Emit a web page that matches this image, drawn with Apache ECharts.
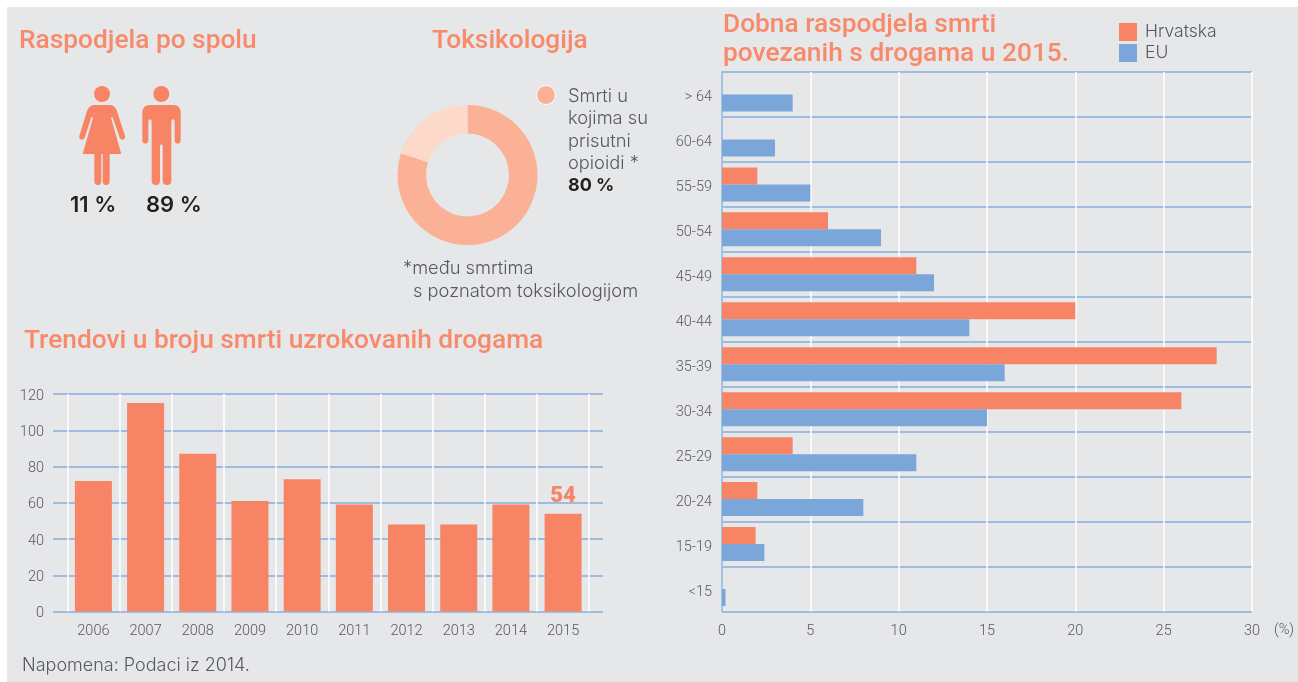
<!DOCTYPE html>
<html><head><meta charset="utf-8">
<style>html,body{margin:0;padding:0;background:#fff}#c{width:1298px;height:682px}</style>
<script src="https://cdn.jsdelivr.net/npm/echarts@6/dist/echarts.min.js"></script>
</head><body><div id="c"></div>
<script>
const years = ['2006','2007','2008','2009','2010','2011','2012','2013','2014','2015'];
const deaths = [72,115,87,61,73,59,48,48,59,54];
const ageGroups = ['> 64','60-64','55-59','50-54','45-49','40-44','35-39','30-34','25-29','20-24','15-19','<15'];
const hrvatska = [0,0,2,6,11,20,28,26,4,2,1.9,0];
const eu = [4,3,5,9,12,14,16,15,11,8,2.4,0.2];
const toxNames = ['Smrti u kojima su prisutni opioidi','Ostale smrti'];
const toxValues = [80,20];

const ORANGE='#f78465', BLUE='#7ba6d9', LINE='#86aedb', GREY='#58595b', NARROW='Roboto', BODY='Inter', HEAD='Roboto';
const womanPath='M72 90 L120 90 Q135 92 141 108 L165 183 Q166 192 158 194 Q152 194 149 188 L129 130 Q126 123 123 128 L154 237 L119 237 L119 318 Q119 330 108 330 Q98 330 98 318 L98 237 L94 237 L94 318 Q94 330 83 330 Q73 330 73 318 L73 237 L38 237 L69 128 Q66 123 63 130 L44 188 Q40 194 34 194 Q26 192 28 183 L51 108 Q57 92 72 90 Z';
const manPath='M240 90 L310 90 Q332 90 332 114 L332 196 Q332 206 323 206 Q314 206 314 196 L314 140 Q314 133 309 133 Q304 133 304 140 L304 318 Q304 330 291 330 Q278 330 278 318 L278 215 Q278 208 274 208 Q270 208 270 215 L270 318 Q270 330 257 330 Q245 330 245 318 L245 140 Q245 133 240 133 Q235 133 235 140 L235 196 Q235 206 226 206 Q217 206 217 196 L217 114 Q217 90 240 90 Z';
echarts.graphic.registerShape('woman',echarts.graphic.extendPath(womanPath,{}));
echarts.graphic.registerShape('man',echarts.graphic.extendPath(manPath,{}));

function head(t,x,y){return {type:'text',x,y,z:10,style:{text:t,font:'500 26.3px '+HEAD,fill:'#f88a6b',verticalAlign:'middle'}};}
function body(t,x,y,extra){return {type:'text',x,y,z:10,style:Object.assign({text:t,font:'300 18.3px '+BODY,fill:GREY,verticalAlign:'middle'},extra||{})};}
const axisFont={fontFamily:NARROW,fontWeight:300,fontSize:14.5,color:GREY};
const chart=echarts.init(document.getElementById('c'),null,{renderer:'canvas'});
chart.setOption({
  animation:false,
  backgroundColor:'#fff',
  graphic:[
    {type:'rect',x:7,y:7,z:-100,shape:{width:1291,height:675},style:{fill:'#e6e7e9'}},
    head('Raspodjela po spolu',19,41),
    head('Toksikologija',432,41),
    head('Trendovi u broju smrti uzrokovanih drogama',24,341),
    head('Dobna raspodjela smrti',723,25),
    head('povezanih s drogama u 2015.',723,54),
    {type:'circle',z:10,shape:{cx:102,cy:94,r:8},style:{fill:ORANGE}},
    {type:'circle',z:10,shape:{cx:161.3,cy:94,r:8},style:{fill:ORANGE}},
    {type:'woman',z:10,x:70,y:75,scaleX:1/3,scaleY:1/3,style:{fill:ORANGE}},
    {type:'man',z:10,x:70,y:75,scaleX:1/3,scaleY:1/3,style:{fill:ORANGE}},
    body('11 %',70,205,{font:'600 22px '+BODY,fill:'#231f20'}),
    body('89 %',146,205,{font:'600 22px '+BODY,fill:'#231f20'}),
    {type:'circle',z:10,shape:{cx:546,cy:95,r:9.5},style:{fill:'#fab196',stroke:'#fff',lineWidth:1}},
    body('Smrti u',568,97),body('kojima su',568,119),body('prisutni',568,142),body('opioidi *',568,164),
    body('80 %',568,186,{font:'700 18px '+BODY,fill:'#231f20'}),
    body('*među smrtima',403,269),
    body('s poznatom toksikologijom',413,292),
    body('Napomena: Podaci iz 2014.',22,666,{font:'300 18px '+BODY}),
    {type:'text',x:1274,y:630,z:10,style:{text:'(%)',font:'300 14.5px '+NARROW,fill:GREY,verticalAlign:'middle'}}
  ],
  legend:{show:true,orient:'vertical',left:1114,top:18,itemWidth:18,itemHeight:18,itemGap:3,icon:'rect',
    data:['Hrvatska','EU'],textStyle:{fontFamily:BODY,fontWeight:300,fontSize:17.5,color:GREY,padding:[0,0,0,3]}},
  grid:[
    {left:53,top:394,width:550,height:217.5},
    {left:67.3,top:394,width:521.9,height:217.5},
    {left:722,top:72,width:530,height:539.5}
  ],
  xAxis:[
    {gridIndex:0,type:'category',show:false,data:years},
    {gridIndex:1,type:'category',data:years,axisLine:{show:false},axisTick:{show:false},
      axisLabel:Object.assign({margin:12},axisFont),
      splitLine:{show:true,lineStyle:{color:'#fff',width:1.5}}},
    {gridIndex:2,type:'value',min:0,max:30,interval:5,axisLine:{show:false},axisTick:{show:false},
      axisLabel:Object.assign({margin:12},axisFont),
      splitLine:{show:true,lineStyle:{color:'#fff',width:1.5}}}
  ],
  yAxis:[
    {gridIndex:0,type:'value',min:0,max:120,interval:20,axisLine:{show:false},axisTick:{show:false},
      axisLabel:Object.assign({margin:9,verticalAlign:'top',lineHeight:4},axisFont),
      splitLine:{show:true,lineStyle:{color:LINE,width:1.5}}},
    {gridIndex:1,type:'value',min:0,max:120,interval:20,show:false,splitLine:{show:false}},
    {gridIndex:2,type:'category',inverse:true,data:ageGroups,axisTick:{show:false},
      axisLine:{show:true,lineStyle:{color:LINE,width:1.5}},
      axisLabel:Object.assign({margin:10,verticalAlign:'top',lineHeight:6},axisFont),
      splitLine:{show:true,lineStyle:{color:LINE,width:1.5}}}
  ],
  series:[
    {type:'bar',name:'Broj smrti',xAxisIndex:1,yAxisIndex:1,barWidth:37,itemStyle:{color:ORANGE},
      data:deaths.map((v,i)=>i===deaths.length-1?{value:v,label:{show:true,position:'top',distance:6,formatter:'{c}',
        fontFamily:HEAD,fontWeight:900,fontSize:22,color:ORANGE}}:v)},
    {type:'bar',name:'Hrvatska',xAxisIndex:2,yAxisIndex:2,barWidth:17,barGap:0,itemStyle:{color:ORANGE},data:hrvatska},
    {type:'bar',name:'EU',xAxisIndex:2,yAxisIndex:2,barWidth:17,barGap:0,itemStyle:{color:BLUE},data:eu},
    {type:'pie',name:'Toksikologija',center:[467.5,175],radius:[41.5,70],startAngle:90,clockwise:true,label:{show:false},labelLine:{show:false},silent:true,
      data:[{name:toxNames[0],value:toxValues[0],itemStyle:{color:'#fab196'}},{name:toxNames[1],value:toxValues[1],itemStyle:{color:'#fcd9c9'}}]}
  ]
});
</script></body></html>
